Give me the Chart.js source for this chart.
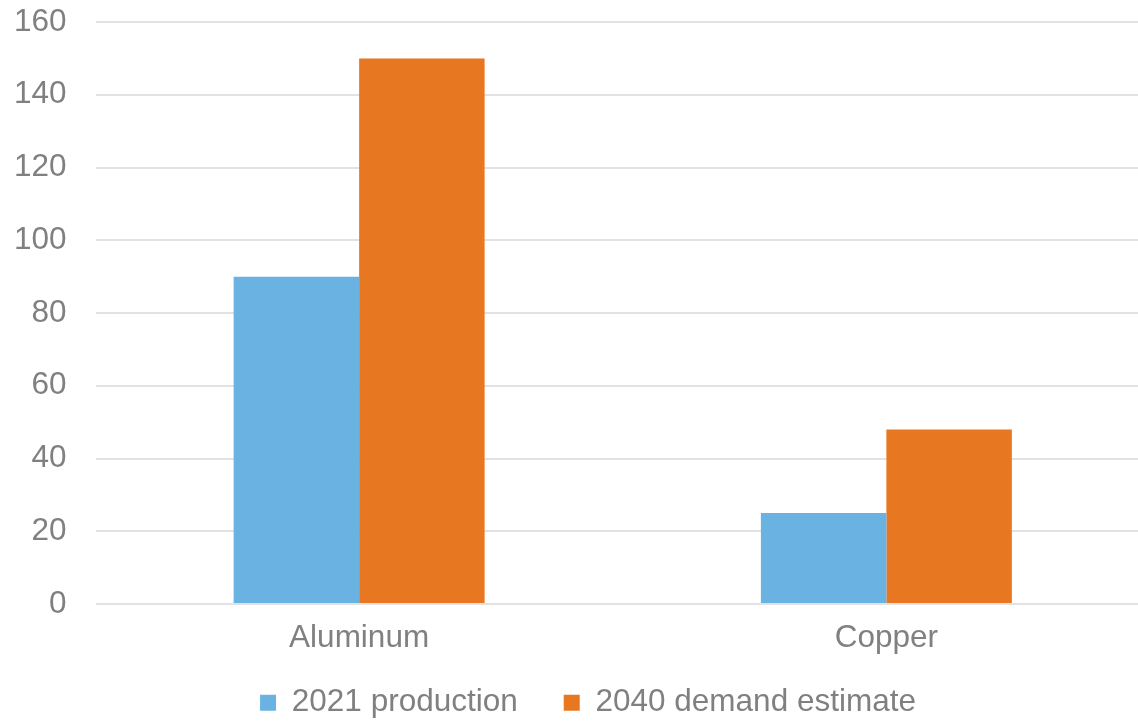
<!DOCTYPE html>
<html>
<head>
<meta charset="utf-8">
<script src="https://cdn.jsdelivr.net/npm/chart.js@4.4.1/dist/chart.umd.min.js"></script>
<style>
  html, body { margin: 0; padding: 0; background: #ffffff; overflow: hidden; }
  #wrap { width: 1150px; height: 721px; }
</style>
</head>
<body>
<div id="wrap"><canvas id="chart" width="1150" height="721"></canvas></div>
<script>
// Metals: 2021 production vs. 2040 demand estimate
const categories = ['Aluminum', 'Copper'];
const production2021 = [90, 25];
const demand2040 = [150, 48];
const seriesNames = ['2021 production', '2040 demand estimate'];
const yMin = 0, yMax = 160, yStep = 20;

const FONT = 'Liberation Sans, Arial, sans-serif';
const TEXT = '#808080';

// Move the legend's drawing position after layout (top edge only, so the
// legend's clip box still reaches the bottom of the canvas)
const legendOffset = {
  id: 'legendOffset',
  afterLayout(chart, args, opts) {
    const lg = chart.legend;
    if (!lg) return;
    lg.left += opts.dx; lg.right += opts.dx;
    lg.top += opts.dy;
  }
};

new Chart(document.getElementById('chart'), {
  type: 'bar',
  data: {
    labels: categories,
    datasets: [
      { label: seriesNames[0], data: production2021, backgroundColor: '#6AB2E2', borderWidth: 0 },
      { label: seriesNames[1], data: demand2040, backgroundColor: '#E87722', borderWidth: 0 }
    ]
  },
  options: {
    responsive: false,
    animation: false,
    devicePixelRatio: 1,
    layout: { padding: { left: 14, right: 0, top: 22, bottom: 0 } },
    datasets: { bar: { categoryPercentage: 0.476, barPercentage: 1.0 } },
    scales: {
      x: {
        grid: { display: false, drawTicks: false },
        border: { display: false },
        ticks: { color: TEXT, font: { family: FONT, size: 31.5 }, padding: 15, maxRotation: 0 },
        afterFit(scale) { scale.height = 54; }
      },
      y: {
        min: yMin, max: yMax,
        grid: { color: '#e2e2e2', lineWidth: 2, drawTicks: false },
        border: { display: false },
        ticks: { stepSize: yStep, color: TEXT, font: { family: FONT, size: 31.5 }, padding: 29 },
        afterFit(scale) {
          scale.width = 81.5;
          scale.paddingTop = 0;
          scale.paddingBottom = 0;
        }
      }
    },
    plugins: {
      legend: {
        position: 'bottom',
        maxHeight: 63,
        labels: { boxWidth: 16, boxHeight: 16, padding: 46, color: TEXT, font: { family: FONT, size: 31.5 } }
      },
      legendOffset: { dx: 6, dy: -17 },
      tooltip: { enabled: false }
    }
  },
  plugins: [legendOffset]
});
</script>
</body>
</html>
